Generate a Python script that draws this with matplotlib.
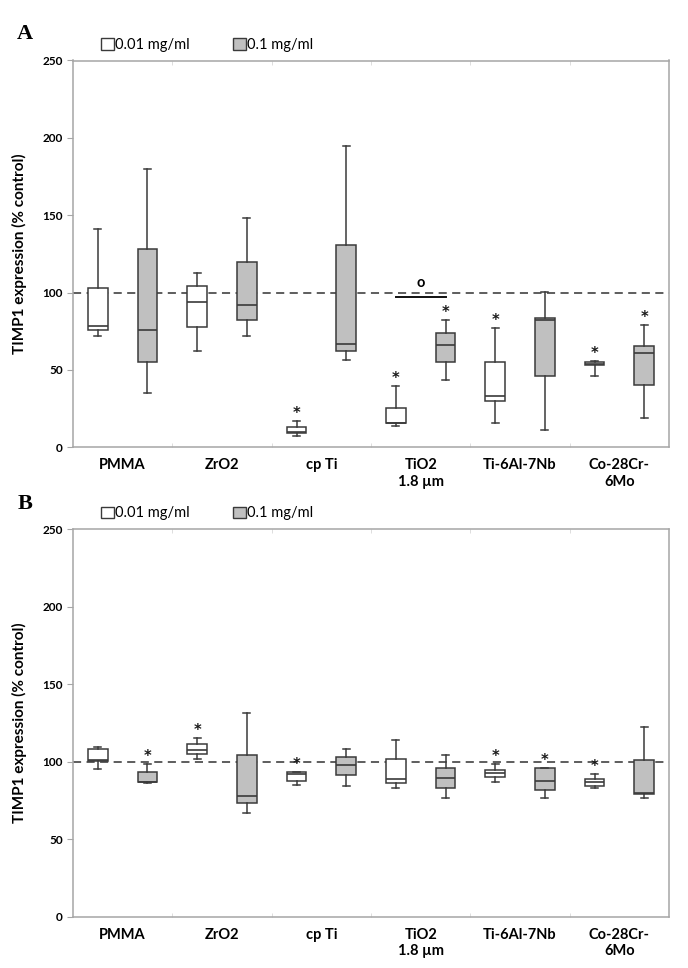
import numpy as np
import matplotlib.pyplot as plt
from matplotlib.patches import Patch

plt.rcParams['font.family'] = ['Lato', 'DejaVu Sans']

categories = ['PMMA', 'ZrO2', 'cp Ti', 'TiO2\n1.8 µm', 'Ti-6Al-7Nb', 'Co-28Cr-\n6Mo']
series = ['0.01 mg/ml', '0.1 mg/ml']

# panel A, 0.01 mg/ml
a_low_whislo = [72, 62, 7.5, 13.7, 15.4, 46]
a_low_q1 = [76, 78, 9, 15.4, 30, 53]
a_low_med = [78.3, 94.2, 10, 15.9, 33.2, 54]
a_low_q3 = [102.8, 104, 13.3, 25.1, 55.1, 55.1]
a_low_whishi = [141, 112.9, 17.1, 39.5, 77, 56]
a_low_star = [False, False, True, True, True, True]

# panel A, 0.1 mg/ml
a_high_whislo = [35.2, 72.1, 56.2, 43.3, 11.1, 19.1]
a_high_q1 = [55.4, 82, 62.2, 55.4, 46.1, 40.1]
a_high_med = [75.5, 92.1, 67, 65.9, 82, 61]
a_high_q3 = [128.1, 120, 131, 73.8, 83.7, 65.2]
a_high_whishi = [180, 147.9, 195, 82, 100.6, 78.8]
a_high_star = [False, False, False, True, False, True]

# panel B, 0.01 mg/ml
b_low_whislo = [95.2, 101.8, 85, 82.9, 87, 82.9]
b_low_q1 = [100.5, 104.8, 87.8, 86.1, 90, 84.4]
b_low_med = [101, 107.6, 92, 88.9, 92.6, 87]
b_low_q3 = [108, 111.3, 93.2, 101.8, 94.7, 88.9]
b_low_whishi = [109.3, 115.1, 93.2, 114, 98.4, 92.1]
b_low_star = [False, True, True, False, True, True]

# panel B, 0.1 mg/ml
b_high_whislo = [86.1, 67.2, 84.4, 76.9, 76.9, 76.9]
b_high_q1 = [86.8, 73.6, 91.3, 82.9, 81.8, 79.3]
b_high_med = [87.2, 78, 98, 89.4, 87.8, 79.7]
b_high_q3 = [93.2, 104.4, 102.9, 95.8, 95.8, 101]
b_high_whishi = [98.4, 131.2, 108, 104.4, 95.8, 122.2]
b_high_star = [True, False, False, False, True, False]

# TiO2 comparison between the two doses in panel A
sig_category = 3
sig_level = 97.4
sig_label_level = 106

control_level = 100

edge = '#3a3a3a'
fills = ['white', '#c0c0c0']
frame = '#a6a6a6'


def make_stats(whislo, q1, med, q3, whishi):
    return [dict(whislo=a, q1=b, med=c, q3=d, whishi=e)
            for a, b, c, d, e in zip(whislo, q1, med, q3, whishi)]


def draw_panel(ax, groups, stars):
    pos = np.arange(len(categories))
    offsets = [-0.25, 0.25]
    ax.axhline(control_level, color='#505050', ls=(0, (4.5, 3)), lw=1.3, zorder=1)
    for k, st in enumerate(groups):
        ax.bxp(st, positions=pos + offsets[k], widths=0.2, capwidths=0.07,
               showfliers=False, patch_artist=True,
               boxprops=dict(facecolor=fills[k], edgecolor=edge, lw=1.1),
               medianprops=dict(color=edge, lw=1.2),
               whiskerprops=dict(color=edge, lw=1.1),
               capprops=dict(color=edge, lw=1.1), zorder=3)
        for i, s in enumerate(stars[k]):
            if s:
                ax.annotate('*', (pos[i] + offsets[k], st[i]['whishi']),
                            xytext=(0, 0), textcoords='offset points',
                            ha='center', va='bottom', fontsize=10.5,
                            family='DejaVu Sans', fontweight='bold',
                            color='#1a1a1a')
    ax.set_xlim(-0.5, len(categories) - 0.5)
    ax.set_ylim(0, 250)
    ax.set_yticks(np.arange(0, 251, 50))
    ax.set_xticks(pos)
    ax.set_xticklabels(categories, fontsize=10.5, fontweight='bold')
    ax.set_xticks(np.arange(0.5, len(categories) - 0.5), minor=True)
    ax.tick_params(axis='x', which='major', length=0, pad=8)
    ax.tick_params(axis='x', which='minor', length=3, direction='in',
                   color='#d8d8d8', top=True)
    ax.tick_params(axis='y', length=4, color=frame, labelsize=8.5)
    for lab in ax.get_yticklabels():
        lab.set_fontweight('bold')
    for sp in ax.spines.values():
        sp.set_color(frame)
        sp.set_linewidth(1.1)
    ax.set_ylabel('TIMP1 expression (% control)', fontsize=11, fontweight='bold')
    ax.yaxis.set_label_coords(-0.077, 0.5)
    handles = [Patch(facecolor=fills[0], edgecolor=edge),
               Patch(facecolor=fills[1], edgecolor=edge)]
    ax.legend(handles, series, ncol=2, loc='center left',
              bbox_to_anchor=(0.035, 1.04), frameon=False, borderpad=0,
              handlelength=0.85, handleheight=0.85, handletextpad=0.1,
              columnspacing=3.0, fontsize=10.5)


fig = plt.figure(figsize=(6.88, 9.68), dpi=100)
ax_a = fig.add_axes([0.1061, 0.5379, 0.8663, 0.3996])
ax_b = fig.add_axes([0.1061, 0.0527, 0.8663, 0.4008])

draw_panel(ax_a,
           [make_stats(a_low_whislo, a_low_q1, a_low_med, a_low_q3, a_low_whishi),
            make_stats(a_high_whislo, a_high_q1, a_high_med, a_high_q3, a_high_whishi)],
           [a_low_star, a_high_star])
draw_panel(ax_b,
           [make_stats(b_low_whislo, b_low_q1, b_low_med, b_low_q3, b_low_whishi),
            make_stats(b_high_whislo, b_high_q1, b_high_med, b_high_q3, b_high_whishi)],
           [b_low_star, b_high_star])

ax_a.plot([sig_category - 0.25, sig_category + 0.25], [sig_level, sig_level],
          color='#111111', lw=1.4, zorder=4)
ax_a.text(sig_category, sig_label_level, 'o', ha='center', va='center',
          fontsize=10.5, fontweight='bold')

fig.text(0.025, 0.96, 'A', family='Liberation Serif', fontweight='bold', fontsize=16)
fig.text(0.025, 0.474, 'B', family='Liberation Serif', fontweight='bold', fontsize=16)

fig.savefig('out.png', dpi=100)
